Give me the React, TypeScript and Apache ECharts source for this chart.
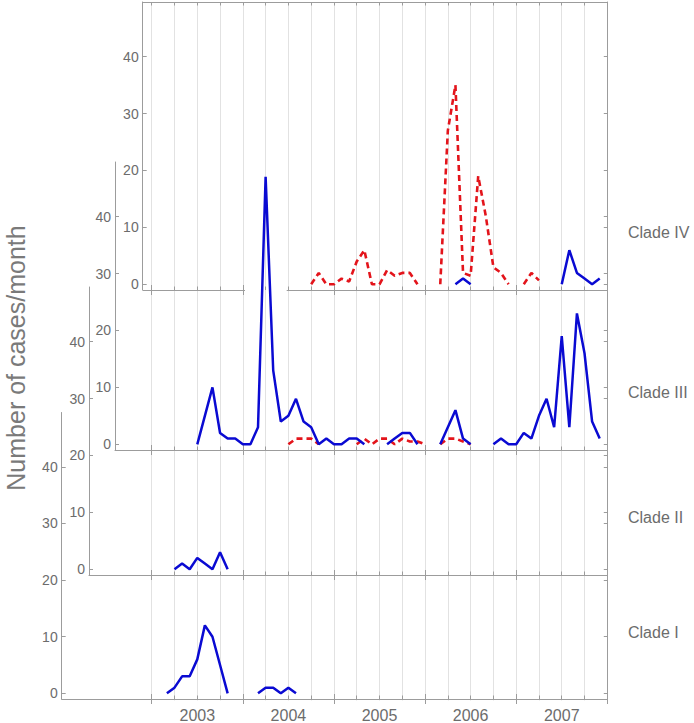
import React, { useEffect, useRef } from 'react';
import * as echarts from 'echarts';

// ---- data (x = months since Jan 2002, null = no data) ----
const cladeIVBlueStart = 52;
const cladeIVBlue = [0, 1, 0, null, null, null, null, null, null, null, null, null, null, null, 0, 6, 2, 1, 0, 1];
const cladeIVRedStart = 33;
const cladeIVRed = [0, 2, 0, 0, 1, 0.5, 4, 6, 0, 0, 2.5, 1.5, 2, 2, 0, null, null, 0, 27, 35, 2, 1.5, 19, 12, 3, 2, 0, null, 0, 2, 0.7];

const cladeIIIBlueStart = 18;
const cladeIIIBlue = [0, 5, 10, 2, 1, 1, 0, 0, 3, 47, 13, 4, 5, 8, 4, 3, 0, 1, 0, 0, 1, 1, 0, null, null, 0, 1, 2, 2, 0, null, null, 0, 3, 6, 1, 0, null, null, 0, 1, 0, 0, 2, 1, 5, 8, 3, 19, 3, 23, 16, 4, 1];
const cladeIIIRedStart = 30;
const cladeIIIRed = [0, 1, 1, 1, 0, null, null, null, null, 0, 1, 0, 1, 1, 0, 1, 0.5, 0.5, 0, null, 0, 1, 1, 0.5, 0];

const cladeIIBlueStart = 15;
const cladeIIBlue = [0, 1, 0, 2, 1, 0, 3, 0];

const cladeIBlueStart = 14;
const cladeIBlue = [0, 1, 3, 3, 6, 12, 10, 5, 0, null, null, null, 0, 1, 1, 0, 1, 0];

const panelNames = ['Clade IV', 'Clade III', 'Clade II', 'Clade I'];
const years = ['2003', '2004', '2005', '2006', '2007'];
const yearLabelMonths = [18, 30, 42, 54, 66];
const yearTickMonths = [12, 24, 36, 48, 60, 72];
const quarterTickMonths = [12, 15, 18, 21, 24, 27, 30, 33, 36, 39, 42, 45, 48, 51, 54, 57, 60, 63, 66, 69, 72];
const yTickValues = [0, 10, 20, 30, 40];

// ---- layout ----
const PX0 = 60.6; // pixel of month 0
const PXM = 7.593; // pixels per month
const XMAX = 72;
const RIGHT = PX0 + PXM * XMAX;
const panelLeft = [142.7, 115, 89, 61.7];
const panelTop = [2, 162, 287, 412.5];
const PANEL_H = 288;
const YMIN = -1;
const YMAX = 49.6;
const labelY = [232, 392, 517, 632];

const FONT = '"Liberation Sans", Arial, Helvetica, sans-serif';
const AXIS = '#9c9c9c';
const TEXT = '#6c6c6c';
const GRIDC = '#e2e2e2';
const BLUE = '#0a0ad2';
const RED = '#e3141b';

function toData(start: number, vals: (number | null)[]) {
  return vals.map((v, i) => [start + i, v === null ? '-' : v]);
}

function buildOption() {
  const grids: any[] = [
    { left: PX0 + PXM * 12, top: panelTop[0], width: RIGHT - (PX0 + PXM * 12), height: panelTop[3] + PANEL_H - panelTop[0] },
  ];
  const xAxes: any[] = [
    {
      gridIndex: 0, type: 'value', min: 12, max: XMAX, interval: 3,
      axisLine: { show: false }, axisTick: { show: false }, axisLabel: { show: false },
      splitLine: { show: true, lineStyle: { color: GRIDC, width: 1 } },
    },
  ];
  const yAxes: any[] = [{ gridIndex: 0, type: 'value', min: 0, max: 1, show: false }];
  const series: any[] = [];
  const mainX: number[] = [];
  const leftY: number[] = [];

  for (let p = 0; p < 4; p++) {
    const gi = p + 1;
    grids.push({ left: panelLeft[p], top: panelTop[p], width: RIGHT - panelLeft[p], height: PANEL_H });
    const xMin = (panelLeft[p] - PX0) / PXM;
    const base = { gridIndex: gi, type: 'value', min: xMin, max: XMAX, splitLine: { show: false } };
    mainX.push(xAxes.length);
    xAxes.push({
      ...base, position: 'bottom',
      axisLine: { show: p !== 0, onZero: false, lineStyle: { color: AXIS, width: 1 } },
      axisTick: { show: true, inside: true, length: 3.5, customValues: quarterTickMonths, lineStyle: { color: AXIS } },
      axisLabel: p === 3
        ? {
            show: true, customValues: yearLabelMonths, margin: 8, fontSize: 16, color: TEXT, fontFamily: FONT,
            formatter: (v: number) => { const i = yearLabelMonths.indexOf(Math.round(v)); return i >= 0 ? years[i] : ''; },
          }
        : { show: false },
    });
    xAxes.push({
      ...base, position: 'bottom',
      axisLine: { show: false, onZero: false },
      axisTick: { show: true, inside: true, length: 5, customValues: yearTickMonths, lineStyle: { color: AXIS } },
      axisLabel: { show: false },
    });
    xAxes.push({
      ...base, position: 'bottom',
      axisLine: { show: false, onZero: false },
      axisTick: { show: true, inside: false, length: 5, customValues: yearTickMonths, lineStyle: { color: AXIS } },
      axisLabel: { show: false },
    });
    if (p === 0) {
      xAxes.push({
        ...base, position: 'top',
        axisLine: { show: true, onZero: false, lineStyle: { color: AXIS, width: 1 } },
        axisTick: { show: true, inside: true, length: 3.5, customValues: quarterTickMonths, lineStyle: { color: AXIS } },
        axisLabel: { show: false },
      });
    }
    leftY.push(yAxes.length);
    yAxes.push({
      gridIndex: gi, type: 'value', min: YMIN, max: YMAX, position: 'left',
      axisLine: { show: true, onZero: false, lineStyle: { color: AXIS, width: 1 } },
      axisTick: { show: true, inside: true, length: 4, customValues: yTickValues, lineStyle: { color: AXIS } },
      axisLabel: { show: true, customValues: yTickValues, margin: 4, fontSize: 14, color: TEXT, fontFamily: FONT },
      splitLine: { show: false },
    });
    yAxes.push({
      gridIndex: gi, type: 'value', min: YMIN, max: YMAX, position: 'right',
      axisLine: { show: true, onZero: false, lineStyle: { color: AXIS, width: 1 } },
      axisTick: { show: true, inside: true, length: 3.5, customValues: yTickValues, lineStyle: { color: AXIS } },
      axisLabel: { show: false },
      splitLine: { show: false },
    });
  }

  const blueStyle = { color: BLUE, width: 2.5 };
  const redStyle = { color: RED, width: 2.6, type: [6, 4] };
  const addSeries = (p: number, start: number, vals: (number | null)[], style: any) => {
    series.push({
      type: 'line', xAxisIndex: mainX[p], yAxisIndex: leftY[p], data: toData(start, vals),
      showSymbol: false, symbol: 'none', connectNulls: false, lineStyle: style, itemStyle: { color: style.color },
      z: 3,
    });
  };
  addSeries(0, cladeIVRedStart, cladeIVRed, redStyle);
  addSeries(0, cladeIVBlueStart, cladeIVBlue, blueStyle);
  addSeries(1, cladeIIIRedStart, cladeIIIRed, redStyle);
  addSeries(1, cladeIIIBlueStart, cladeIIIBlue, blueStyle);
  addSeries(2, cladeIIBlueStart, cladeIIBlue, blueStyle);
  addSeries(3, cladeIBlueStart, cladeIBlue, blueStyle);

  const graphic: any[] = [
    { type: 'line', z: 1, shape: { x1: panelLeft[0], y1: 290.5, x2: 245, y2: 290.5 }, style: { stroke: AXIS, lineWidth: 1 } },
    { type: 'line', z: 1, shape: { x1: 286.7, y1: 290.5, x2: RIGHT, y2: 290.5 }, style: { stroke: AXIS, lineWidth: 1 } },
    {
      type: 'text', x: 16, y: 358, rotation: Math.PI / 2,
      style: { text: 'Number of cases/month', x: 0, y: 0, align: 'center', verticalAlign: 'middle', fill: '#7a7a7a', fontSize: 25, fontFamily: FONT },
    },
    ...panelNames.map((n, i) => ({
      type: 'text', x: 628, y: labelY[i],
      style: { text: n, x: 0, y: 0, align: 'left', verticalAlign: 'middle', fill: TEXT, fontSize: 16, fontFamily: FONT },
    })),
  ];

  return {
    animation: false,
    backgroundColor: '#ffffff',
    grid: grids,
    xAxis: xAxes,
    yAxis: yAxes,
    series,
    graphic,
  };
}

export default function App() {
  const ref = useRef<HTMLDivElement>(null);
  useEffect(() => {
    const chart = echarts.init(ref.current as HTMLDivElement, null, { renderer: 'svg' });
    chart.setOption(buildOption() as any);
    return () => chart.dispose();
  }, []);
  return (
    <div
      ref={ref}
      style={{ position: 'fixed', left: 0, top: 0, width: 694, height: 723, background: '#ffffff' }}
    />
  );
}
